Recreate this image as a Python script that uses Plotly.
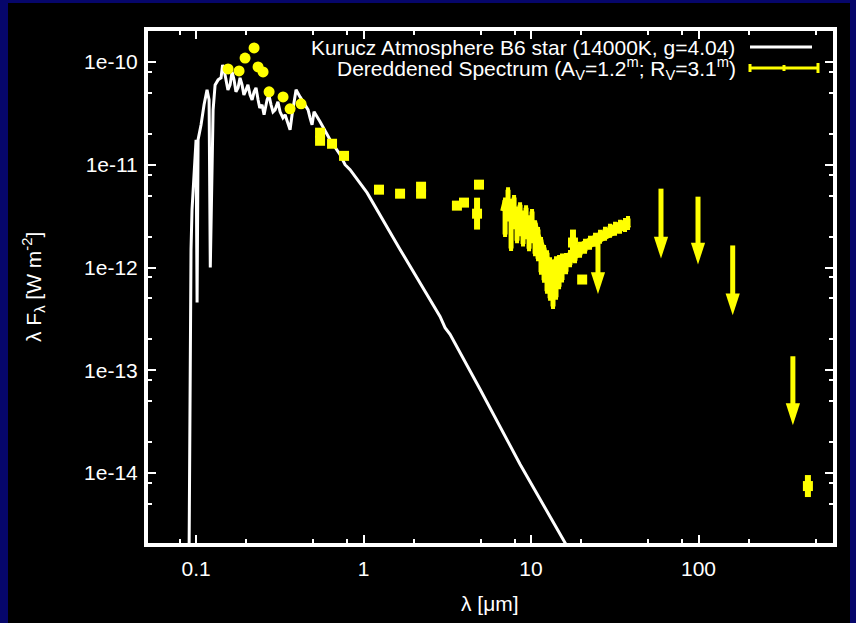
import numpy as np
import plotly.graph_objects as go

# ---------------- data ----------------
kurucz_wave = [0.0908, 0.0921, 0.0933, 0.0946, 0.0973, 0.1000, 0.1014, 0.1028, 0.1071, 0.1116,
               0.1163, 0.1196, 0.1216, 0.1264, 0.1299, 0.1353, 0.1410, 0.1440, 0.1470, 0.1510,
               0.1550, 0.1596, 0.1640, 0.1686, 0.1730, 0.1781, 0.1830, 0.1882, 0.1930, 0.1988,
               0.2040, 0.2101, 0.2160, 0.2220, 0.2280, 0.2345, 0.2400, 0.2477, 0.2547, 0.2654,
               0.2720, 0.2804, 0.2880, 0.2963, 0.3080, 0.3175, 0.3300, 0.3400, 0.3543, 0.3642,
               0.3743, 0.3954, 0.4178, 0.4474, 0.4665, 0.4793, 0.4927, 0.5064, 0.5500, 0.6310,
               0.7244, 0.7758, 0.8308, 1.049, 1.652, 2.862, 3.066, 3.285, 4.962, 8.600,
               15.96, 19.6]
kurucz_flux = [1.46e-15, 8.2e-14, 1.5e-12, 3.66e-12, 8.94e-12, 1.75e-11, 4.57e-13, 1.75e-11, 2.45e-11, 3.83e-11,
               5.35e-11, 4.28e-11, 1.0e-12, 3.42e-11, 5.98e-11, 6.69e-11, 7.00e-11, 9.35e-11, 8.36e-11, 6.40e-11,
               5.35e-11, 5.98e-11, 8.00e-11, 6.69e-11, 5.12e-11, 5.60e-11, 7.00e-11, 5.98e-11, 4.78e-11, 5.35e-11,
               5.98e-11, 4.78e-11, 4.28e-11, 5.12e-11, 5.60e-11, 4.28e-11, 3.57e-11, 3.83e-11, 3.06e-11, 4.28e-11,
               4.78e-11, 3.83e-11, 3.27e-11, 3.42e-11, 4.09e-11, 3.27e-11, 2.86e-11, 3.06e-11, 2.45e-11, 2.19e-11,
               3.06e-11, 5.35e-11, 4.57e-11, 3.83e-11, 3.42e-11, 2.86e-11, 2.45e-11, 3.27e-11, 2.62e-11, 1.75e-11,
               1.25e-11, 1.0e-11, 8.94e-12, 5.35e-12, 1.50e-12, 3.34e-13, 2.6e-13, 2.24e-13, 6.55e-14, 1.22e-14,
               2.05e-15, 1.17e-15]

# UV photometry (circles)
uv_wave = [0.1553, 0.1806, 0.1961, 0.2220, 0.2345, 0.2512, 0.2729, 0.3307, 0.3642, 0.4236]
uv_flux = [8.55e-11, 8.18e-11, 1.09e-10, 1.37e-10, 8.94e-11, 8.00e-11, 5.12e-11, 4.57e-11, 3.50e-11, 3.91e-11]

# optical / IR / sub-mm photometry (squares) with error bounds
phot_wave = [0.55, 0.55, 0.6484, 0.7647, 1.237, 1.652, 2.205, 2.205, 3.61, 3.98, 4.89, 4.76, 17.8, 20.2, 450.0]
phot_flux = [2.05e-11, 1.71e-11, 1.60e-11, 1.22e-11, 5.72e-12, 5.23e-12, 6.11e-12, 5.23e-12, 4.00e-12, 4.28e-12,
             6.40e-12, 3.34e-12, 1.75e-12, 7.64e-13, 7.48e-15]
phot_hi = [2.05e-11, 1.71e-11, 1.60e-11, 1.22e-11, 5.72e-12, 5.23e-12, 6.11e-12, 5.23e-12, 4.00e-12, 4.28e-12,
           6.40e-12, 4.78e-12, 2.34e-12, 7.64e-13, 9.57e-15]
phot_lo = [2.05e-11, 1.71e-11, 1.60e-11, 1.22e-11, 5.72e-12, 5.23e-12, 6.11e-12, 5.23e-12, 4.00e-12, 4.28e-12,
           6.40e-12, 2.34e-12, 1.37e-12, 7.64e-13, 5.85e-15]

# mid-IR spectrum with relative errors
irs_wave = [7.00, 7.29, 7.60, 7.92, 8.25, 8.60, 8.96, 9.34, 9.73, 10.14, 10.57, 11.01, 11.47, 11.96,
            12.46, 12.99, 13.53, 14.10, 14.70, 15.31, 16.18, 17.09, 18.31, 19.61, 21.01, 22.50, 24.11,
            25.82, 27.66, 29.62, 31.74, 33.99, 36.41, 37.94]
irs_flux = [3.50e-12, 4.57e-12, 3.06e-12, 3.83e-12, 2.80e-12, 3.27e-12, 2.61e-12, 3.06e-12, 2.34e-12, 2.80e-12,
            2.09e-12, 1.87e-12, 1.50e-12, 1.25e-12, 1.07e-12, 9.14e-13, 8.36e-13, 9.35e-13, 1.0e-12, 1.08e-12,
            1.14e-12, 1.25e-12, 1.37e-12, 1.50e-12, 1.64e-12, 1.75e-12, 1.87e-12, 2.00e-12, 2.14e-12, 2.29e-12,
            2.39e-12, 2.50e-12, 2.61e-12, 2.73e-12]
irs_rel_up = [0.30, 0.25, 0.30, 0.25, 0.30, 0.25, 0.30, 0.25, 0.30, 0.25, 0.30, 0.25, 0.25, 0.25,
              0.30, 0.30, 0.35, 0.30, 0.25, 0.20, 0.15, 0.12, 0.12, 0.12, 0.10, 0.10, 0.10,
              0.10, 0.10, 0.10, 0.10, 0.10, 0.10, 0.10]
irs_rel_dn = [0.40, 0.35, 0.50, 0.35, 0.35, 0.35, 0.35, 0.35, 0.35, 0.35, 0.35, 0.35, 0.40, 0.40,
              0.45, 0.45, 0.50, 0.45, 0.35, 0.30, 0.20, 0.15, 0.15, 0.12, 0.12, 0.10, 0.10,
              0.10, 0.10, 0.10, 0.10, 0.10, 0.10, 0.10]

# upper limits
ul_wave = [25.1, 59.7, 99.3, 160.0, 366.0]
ul_flux = [1.87e-12, 5.85e-12, 4.89e-12, 1.64e-12, 1.37e-13]
ul_len_dec = [0.53, 0.68, 0.66, 0.68, 0.67]   # drawn arrow length (decades)

x_tickvals = [0.1, 1, 10, 100]
x_ticktext = ["0.1", "1", "10", "100"]
y_tickvals = [1e-14, 1e-13, 1e-12, 1e-11, 1e-10]
y_ticktext = ["1e-14", "1e-13", "1e-12", "1e-11", "1e-10"]

# ---------------- styling ----------------
YEL = "#ffff00"
WHITE = "#ffffff"
NAVY = "#06066a"
FONT = "Liberation Sans, Arial, Helvetica, sans-serif"
FS = 21

fig = go.Figure()

fig.add_trace(go.Scatter(x=kurucz_wave, y=kurucz_flux, mode="lines",
                         line=dict(color=WHITE, width=3), showlegend=False))

irs_up = [f * r for f, r in zip(irs_flux, irs_rel_up)]
irs_dn = [f * r for f, r in zip(irs_flux, irs_rel_dn)]
fig.add_trace(go.Scatter(x=irs_wave, y=irs_flux, mode="lines",
                         line=dict(color=YEL, width=10),
                         error_y=dict(type="data", symmetric=False, array=irs_up, arrayminus=irs_dn,
                                      color=YEL, thickness=5, width=2),
                         showlegend=False))

fig.add_trace(go.Scatter(x=uv_wave, y=uv_flux, mode="markers",
                         marker=dict(symbol="circle", size=11, color=YEL, line=dict(width=0)),
                         showlegend=False))

p_up = [h - f for h, f in zip(phot_hi, phot_flux)]
p_dn = [f - l for l, f in zip(phot_lo, phot_flux)]
fig.add_trace(go.Scatter(x=phot_wave, y=phot_flux, mode="markers",
                         marker=dict(symbol="square", size=10, color=YEL, line=dict(width=0)),
                         error_y=dict(type="data", symmetric=False, array=p_up, arrayminus=p_dn,
                                      color=YEL, thickness=6, width=0),
                         showlegend=False))

tips = [f / 10 ** d for f, d in zip(ul_flux, ul_len_dec)]
sx, sy = [], []
for w, f, t in zip(ul_wave, ul_flux, tips):
    sx += [w, w, None]
    sy += [f, t * 1.25, None]
fig.add_trace(go.Scatter(x=sx, y=sy, mode="lines", line=dict(color=YEL, width=5),
                         showlegend=False))
fig.add_trace(go.Scatter(x=ul_wave, y=tips, mode="markers",
                         marker=dict(symbol="arrow", size=23, angle=180, color=YEL, line=dict(width=0)),
                         showlegend=False))

# plot area geometry (pixels)
L, R, T, B = 148, 833, 31, 543
W, H = 856, 623
pw, ph = R - L, B - T
def px(x):
    return (x - L) / pw
def py(y):
    return (B - y) / ph

axis_common = dict(
    type="log", showgrid=False, zeroline=False,
    showline=True, linecolor=WHITE, linewidth=4, mirror="ticks",
    ticks="inside", ticklen=8, tickwidth=2, tickcolor=WHITE,
    tickfont=dict(family=FONT, size=FS, color=WHITE),
)
x_minor = [m * 10.0 ** e for e in range(-2, 3) for m in (2, 5, 8)]
y_minor = [m * 10.0 ** e for e in range(-16, -9) for m in (2, 5, 8)]

fig.update_xaxes(range=[-1.287, 2.803], tickvals=x_tickvals, ticktext=x_ticktext,
                 ticklabelstandoff=4,
                 minor=dict(tickvals=x_minor, ticks="inside", ticklen=4, tickwidth=2, tickcolor=WHITE),
                 **axis_common)
fig.update_yaxes(range=[-14.68, -9.699], tickvals=y_tickvals, ticktext=y_ticktext,
                 ticklabelstandoff=2,
                 minor=dict(tickvals=y_minor, ticks="inside", ticklen=4, tickwidth=2, tickcolor=WHITE),
                 **axis_common)

annotations = [
    dict(text="Kurucz Atmosphere B6 star (14000K, g=4.04)", x=px(737), y=py(47),
         xanchor="right", yanchor="middle", showarrow=False),
    dict(text="Dereddened Spectrum (A<sub>V</sub>=1.2<sup>m</sup>; R<sub>V</sub>=3.1<sup>m</sup>)",
         x=px(738), y=py(68), xanchor="right", yanchor="middle", showarrow=False),
    dict(text="λ [μm]", x=px(490), y=py(603), xanchor="center", yanchor="middle", showarrow=False),
    dict(text="λ F<sub>λ</sub> [W m<sup>-2</sup>]", x=px(33), y=0.5, textangle=-90,
         xanchor="center", yanchor="middle", showarrow=False),
]
for a in annotations:
    a.update(xref="paper", yref="paper", font=dict(family=FONT, size=FS, color=WHITE))

shapes = [
    # black page area inside the navy frame
    dict(type="rect", xref="paper", yref="paper", x0=px(8), x1=px(850), y0=py(700), y1=py(3),
         fillcolor="black", line=dict(width=0), layer="below"),
    # legend keys
    dict(type="line", xref="paper", yref="paper", x0=px(750), x1=px(812), y0=py(47), y1=py(47),
         line=dict(color=WHITE, width=3)),
    dict(type="line", xref="paper", yref="paper", x0=px(750), x1=px(818), y0=py(68), y1=py(68),
         line=dict(color=YEL, width=3)),
    dict(type="line", xref="paper", yref="paper", x0=px(750), x1=px(750), y0=py(64), y1=py(72),
         line=dict(color=YEL, width=3)),
    dict(type="line", xref="paper", yref="paper", x0=px(818), x1=px(818), y0=py(63), y1=py(73),
         line=dict(color=YEL, width=3)),
    dict(type="line", xref="paper", yref="paper", x0=px(784), x1=px(784), y0=py(65), y1=py(71),
         line=dict(color=YEL, width=3)),
]

fig.update_layout(
    width=W, height=H, autosize=False,
    margin=dict(l=L, r=W - R, t=T, b=H - B, pad=0),
    paper_bgcolor=NAVY, plot_bgcolor="black",
    showlegend=False,
    annotations=annotations, shapes=shapes,
    font=dict(family=FONT, size=FS, color=WHITE),
)

fig.write_html("out.html")
